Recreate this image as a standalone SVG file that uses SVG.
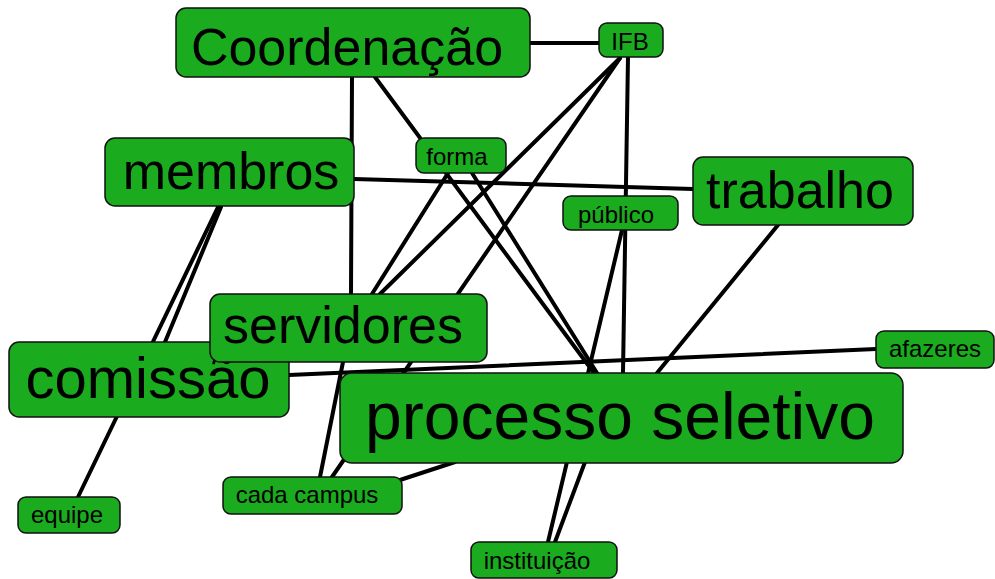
<svg xmlns="http://www.w3.org/2000/svg" width="995" height="579" viewBox="0 0 995 579">
<style>
.n rect{fill:#1aab1e;stroke:#111;stroke-width:1.5}
.n text{font-family:"Liberation Sans",Arial,sans-serif;fill:#000;text-anchor:middle}
.b text{font-size:52px}
.s text{font-size:24px}
#edges line{stroke:#000;stroke-width:4;stroke-linecap:round}
</style>
<rect width="995" height="579" fill="#fff"/>
<g id="edges">
<line x1="530" y1="43" x2="599" y2="43"/>
<line x1="352" y1="77" x2="351" y2="294"/>
<line x1="375" y1="77" x2="594" y2="373"/>
<line x1="354" y1="179" x2="693" y2="189"/>
<line x1="628" y1="57" x2="623" y2="373"/>
<line x1="620" y1="58" x2="380" y2="294"/>
<line x1="620" y1="58" x2="332" y2="477"/>
<line x1="448" y1="173" x2="372" y2="294"/>
<line x1="472" y1="173" x2="597" y2="373"/>
<line x1="622" y1="230" x2="548" y2="542"/>
<line x1="778" y1="225" x2="657" y2="373"/>
<line x1="218" y1="207" x2="78" y2="497"/>
<line x1="221" y1="207" x2="165" y2="342"/>
<line x1="289" y1="375" x2="876" y2="349"/>
<line x1="343" y1="362" x2="320" y2="477"/>
<line x1="400" y1="480" x2="455" y2="462"/>
<line x1="585" y1="462" x2="555" y2="542"/>
</g>
<g id="coordenacao" class="n b"><rect x="176" y="8" width="354" height="69" rx="10"/><text x="347" y="65">Coordenação</text></g>
<g id="ifb" class="n s"><rect x="599" y="23" width="64" height="34" rx="8"/><text x="630" y="50">IFB</text></g>
<g id="membros" class="n b"><rect x="105" y="138" width="249" height="68" rx="10"/><text x="231" y="189">membros</text></g>
<g id="forma" class="n s"><rect x="416" y="138" width="90" height="35" rx="8"/><text x="457" y="165">forma</text></g>
<g id="trabalho" class="n b"><rect x="693" y="157" width="220" height="68" rx="10"/><text x="800" y="208">trabalho</text></g>
<g id="publico" class="n s"><rect x="563" y="196" width="115" height="34" rx="8"/><text x="616" y="223">público</text></g>
<g id="comissao" class="n b"><rect x="9" y="342" width="280" height="75" rx="10"/><text x="148" y="398" style="font-size:58px">comissão</text></g>
<g id="servidores" class="n b"><rect x="210" y="294" width="277" height="68" rx="10"/><text x="343" y="343">servidores</text></g>
<g id="afazeres" class="n s"><rect x="876" y="331" width="118" height="37" rx="8"/><text x="935" y="357">afazeres</text></g>
<g id="processo" class="n b"><rect x="340" y="373" width="563" height="90" rx="12"/><text x="620" y="439" style="font-size:66px">processo seletivo</text></g>
<g id="cadacampus" class="n s"><rect x="223" y="477" width="179" height="37" rx="8"/><text x="307" y="503">cada campus</text></g>
<g id="equipe" class="n s"><rect x="18" y="497" width="102" height="36" rx="8"/><text x="67" y="523">equipe</text></g>
<g id="instituicao" class="n s"><rect x="471" y="542" width="146" height="36" rx="8"/><text x="537" y="569">instituição</text></g>
</svg>
